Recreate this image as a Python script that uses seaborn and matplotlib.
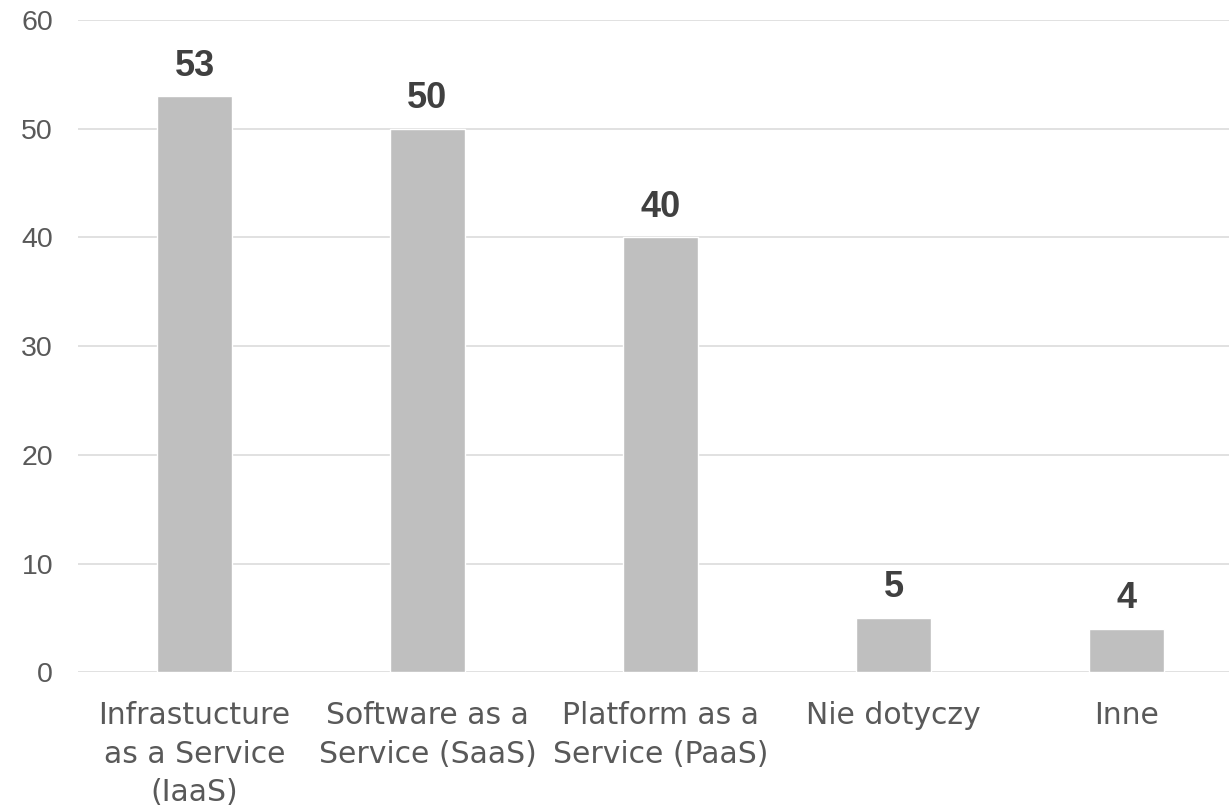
import matplotlib
matplotlib.use('Agg')
from matplotlib import pyplot as plt
from matplotlib import font_manager
import seaborn as sns
import pandas as pd

categories = ["Infrastucture\nas a Service\n(IaaS)", "Software as a\nService (SaaS)",
              "Platform as a\nService (PaaS)", "Nie dotyczy", "Inne"]
values = [53, 50, 40, 5, 4]
y_ticks = [0, 10, 20, 30, 40, 50, 60]

df = pd.DataFrame({"kategoria": categories, "wartosc": values})

sns.set_style("white")
plt.rcParams['font.family'] = ['Liberation Sans', 'DejaVu Sans']

# pick the regular-width bold file so the narrow variant is not used
bold_files = [f for f in font_manager.findSystemFonts() if f.endswith('LiberationSans-Bold.ttf')]
if bold_files:
    bold_font = font_manager.FontProperties(fname=bold_files[0], size=26)
else:
    bold_font = font_manager.FontProperties(family='DejaVu Sans', weight='bold', size=24)

fig = plt.figure(figsize=(12.29, 8.07), dpi=100)
ax = fig.add_axes([78 / 1229, (807 - 672.3) / 807, (1229 - 78) / 1229, (672.3 - 20) / 807])

sns.barplot(data=df, x="kategoria", y="wartosc", color="#BFBFBF", width=0.32,
            saturation=1, ax=ax, zorder=3)

ax.set_ylim(0, 60)
ax.set_xlim(-0.5, 4.5 - 14 / 233)
ax.set_yticks(y_ticks)
ax.yaxis.grid(True, color="#D9D9D9", linewidth=1.1, zorder=0)
ax.set_axisbelow(True)
for s in ax.spines.values():
    s.set_visible(False)
ax.tick_params(axis='both', length=0)
ax.tick_params(axis='y', labelsize=20.5, labelcolor="#595959", pad=18)
ax.set_xlabel("")
ax.set_ylabel("")

ax.set_xticks(range(len(categories)))
ax.set_xticklabels(categories, fontsize=21.5, color="#595959", family=['DejaVu Sans'],
                   linespacing=1.4)
ax.tick_params(axis='x', pad=21)

for i, v in enumerate(values):
    ax.annotate(str(v), (i, v), xytext=(0, 9), textcoords='offset points',
                ha='center', va='bottom', fontproperties=bold_font, color="#404040")

fig.savefig("out.png", dpi=100)
